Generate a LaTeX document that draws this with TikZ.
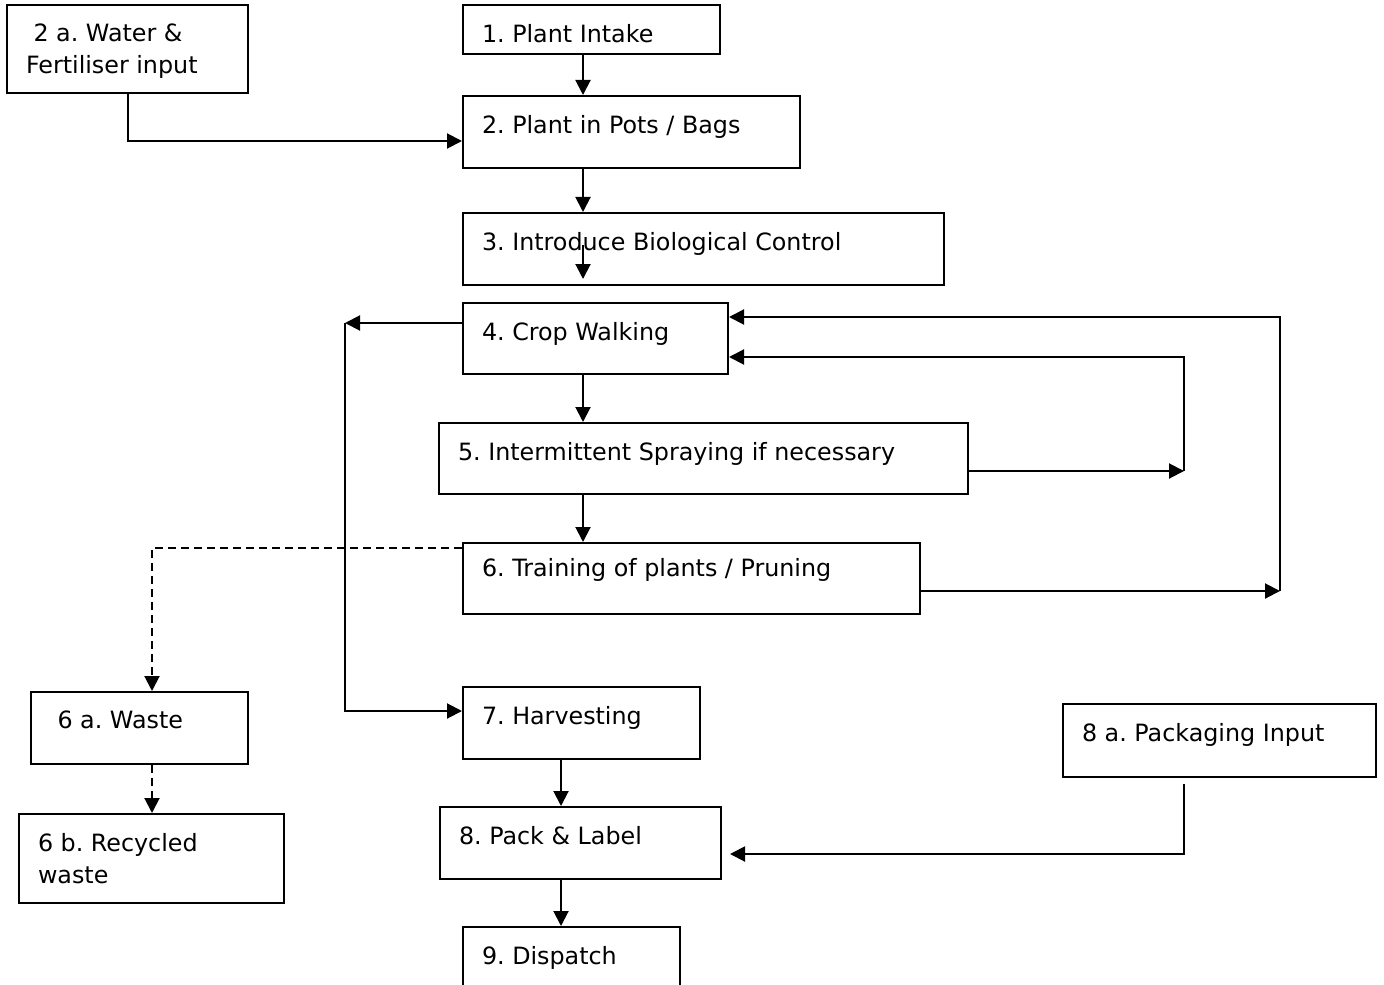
\documentclass[tikz,border=0pt]{standalone}
\usepackage{fontspec}
\setmainfont{DejaVu Sans}
\usetikzlibrary{arrows.meta,fit}
\frenchspacing

\tikzset{
  box/.style={draw, line width=1pt, inner sep=0pt},
  txt/.style={anchor=north west, align=left, inner xsep=9.8pt, inner ysep=9.8pt,
    font=\fontsize{11.9pt}{16pt}\selectfont},
  arr/.style={line width=1pt, -{Triangle[length=7.5pt,width=7.5pt]}},
  dasharr/.style={arr, dash pattern=on 4pt off 2.5pt},
}

\begin{document}
\begin{tikzpicture}[x=0.5pt, y=-0.5pt]
    \useasboundingbox (0,0) rectangle (1384,984);

    % boxes
    \node[box, fit={(7,5) (248,93)}]      (water) {};
    \node[box, fit={(463,5) (720,54)}]    (intake) {};
    \node[box, fit={(463,96) (800,168)}]  (pots) {};
    \node[box, fit={(463,213) (944,285)}] (bio) {};
    \node[box, fit={(463,303) (728,374)}] (walk) {};
    \node[box, fit={(439,423) (968,494)}] (spray) {};
    \node[box, fit={(463,543) (920,614)}] (prune) {};
    \node[box, fit={(31,692) (248,764)}]  (waste) {};
    \node[box, fit={(19,814) (284,903)}]  (recyc) {};
    \node[box, fit={(463,687) (700,759)}] (harvest) {};
    \node[box, fit={(1063,704) (1376,777)}] (pkg) {};
    \node[box, fit={(440,807) (721,879)}] (pack) {};
    \node[box, fit={(463,927) (680,995)}] (dispatch) {};

    \node[txt] (water-t)    at (water.north west)    {\ 2 a. Water \&\\Fertiliser input};
    \node[txt] (intake-t)   at (intake.north west)   {1. Plant Intake};
    \node[txt] (pots-t)     at (pots.north west)     {2. Plant in Pots / Bags};
    \node[txt] (bio-t)      at (bio.north west)      {3. Introduce Biological Control};
    \node[txt] (walk-t)     at (walk.north west)     {4. Crop Walking};
    \node[txt] (spray-t)    at (spray.north west)    {5. Intermittent Spraying if necessary};
    \node[txt, inner ysep=8.2pt] (prune-t) at (prune.north west) {6. Training of plants / Pruning};
    \node[txt] (waste-t)    at (waste.north west)    {\ 6 a. Waste};
    \node[txt] (recyc-t)    at (recyc.north west)    {6 b. Recycled\\waste};
    \node[txt] (harvest-t)  at (harvest.north west)  {7. Harvesting};
    \node[txt] (pkg-t)      at (pkg.north west)      {8 a. Packaging Input};
    \node[txt] (pack-t)     at (pack.north west)     {8. Pack \& Label};
    \node[txt] (dispatch-t) at (dispatch.north west) {9. Dispatch};

    % rails
    \coordinate (spine)  at (583,0);
    \coordinate (spine2) at (561,0);
    \coordinate (feed)   at (128,141);
    \coordinate (bio-in) at (583,245);
    \coordinate (left-rail) at (345,323);
    \coordinate (rail-a) at (1184,357);
    \coordinate (rail-b) at (1280,317);
    \coordinate (drop)   at (152,548);
    \coordinate (pack-in) at (1184,854);

    \draw[arr] (intake.south -| spine) -- (pots.north -| spine);
    \draw[arr] (water.south -| feed) |- (pots.west |- feed);
    \draw[arr] (pots.south -| spine) -- (bio.north -| spine);
    \draw[arr, shorten >=3.5pt] (bio-in) -- (bio.south -| bio-in);
    \draw[arr] (walk.south -| spine) -- (spray.north -| spine);
    \draw[arr] (spray.south -| spine) -- (prune.north -| spine);

    \draw[arr] (walk.west |- left-rail) -- (left-rail);
    \draw[arr] (left-rail) |- ([yshift=6pt]harvest.west);

    \draw[arr] ([yshift=-6.25pt]spray.east) -- ([yshift=-6.25pt]spray.east -| rail-a);
    \draw[arr] ([yshift=-6.25pt]spray.east -| rail-a) |- (walk.east |- rail-a);
    \draw[arr] ([yshift=-6.25pt]prune.east) -- ([yshift=-6.25pt]prune.east -| rail-b);
    \draw[arr] ([yshift=-6.25pt]prune.east -| rail-b) |- (walk.east |- rail-b);

    \draw[dasharr] (prune.west |- drop) -| (waste.north -| drop);
    \draw[dasharr] (waste.south -| drop) -- (recyc.north -| drop);

    \draw[arr] (harvest.south -| spine2) -- (pack.north -| spine2);
    \draw[arr] ([yshift=-3pt]pkg.south -| pack-in) |- ([xshift=4pt]pack.east |- pack-in);
    \draw[arr] (pack.south -| spine2) -- (dispatch.north -| spine2);
\end{tikzpicture}
\end{document}
